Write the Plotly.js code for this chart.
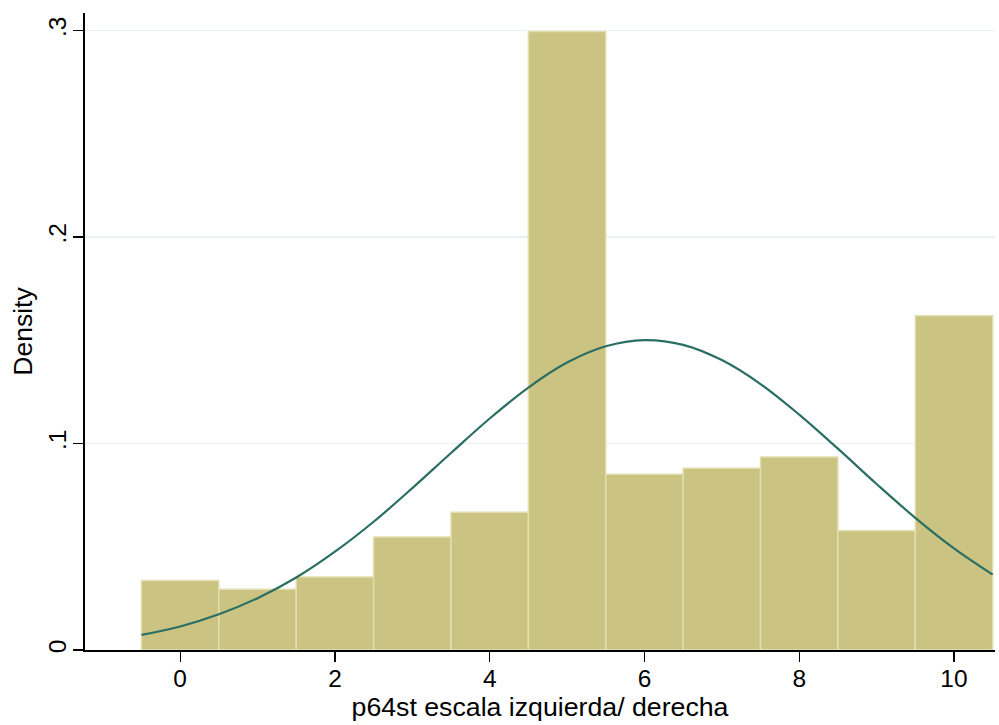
<!DOCTYPE html>
<html>
<head>
<meta charset="utf-8">
<script src="https://cdn.plot.ly/plotly-3.0.1.min.js"></script>
<style>
  html, body { margin: 0; padding: 0; background: #ffffff; }
  #chart { width: 999px; height: 725px; }
</style>
</head>
<body>
<div id="chart"></div>
<script>
// Histogram of the left/right self-placement scale (density per unit bin)
const binCenters = [0, 1, 2, 3, 4, 5, 6, 7, 8, 9, 10];
const binDensity = [0.0336, 0.0294, 0.0354, 0.0547, 0.0667, 0.2995, 0.0851, 0.0880, 0.0935, 0.0578, 0.1619];

// Fitted normal density curve, sampled along the scale
const curveX = [-0.5, 0, 0.5, 1, 1.5, 2, 2.5, 3, 3.5, 4, 4.5, 5, 5.5, 6, 6.5, 7, 7.5, 8, 8.5, 9, 9.5, 10, 10.5];
const curveY = [0.0073, 0.0114, 0.0173, 0.0251, 0.0351, 0.0476, 0.0621, 0.0784, 0.0954, 0.1121, 0.1271, 0.1392, 0.1471, 0.1501, 0.1478, 0.1404, 0.1288, 0.1140, 0.0975, 0.0804, 0.0640, 0.0492, 0.0365];

// Axis ticks
const xTickVals = [0, 2, 4, 6, 8, 10];
const xTickText = ["0", "2", "4", "6", "8", "10"];
const yTickVals = [0, 0.1, 0.2, 0.3];
const yTickText = ["0", ".1", ".2", ".3"];

const FONT = "'Liberation Sans', Arial, Helvetica, sans-serif";

const traces = [
  {
    type: "bar",
    x: binCenters,
    y: binDensity,
    width: 1,
    marker: { color: "rgb(202,195,129)", line: { color: "rgb(226,222,176)", width: 1.5 } },
    hoverinfo: "x+y"
  },
  {
    type: "scatter",
    mode: "lines",
    x: curveX,
    y: curveY,
    line: { color: "rgb(42,110,100)", width: 2.2, shape: "spline", smoothing: 1 },
    hoverinfo: "x+y"
  }
];

const layout = {
  width: 999,
  height: 725,
  margin: { l: 85, r: 4, t: 13, b: 75 },
  paper_bgcolor: "#ffffff",
  plot_bgcolor: "#ffffff",
  showlegend: false,
  bargap: 0,
  font: { family: FONT, color: "#000000", size: 24 },
  xaxis: {
    range: [-1.23, 10.53],
    tickmode: "array",
    tickvals: xTickVals,
    ticktext: xTickText,
    ticks: "outside",
    ticklen: 10,
    tickwidth: 1.3,
    tickcolor: "#000000",
    ticklabelstandoff: -4,
    tickfont: { family: FONT, size: 24.5, color: "#000000" },
    showline: true,
    linecolor: "#000000",
    linewidth: 1.6,
    showgrid: false,
    zeroline: false,
    automargin: false,
    title: { text: "p64st escala izquierda/ derecha", font: { family: FONT, size: 26.7, color: "#000000" }, standoff: 4 }
  },
  yaxis: {
    range: [0, 0.3085],
    tickmode: "array",
    tickvals: yTickVals,
    ticktext: yTickText,
    tickangle: -90,
    ticks: "outside",
    ticklen: 10,
    tickwidth: 1.3,
    tickcolor: "#000000",
    ticklabelstandoff: -2,
    tickfont: { family: FONT, size: 24.5, color: "#000000" },
    showline: true,
    linecolor: "#000000",
    linewidth: 1.6,
    showgrid: true,
    gridcolor: "rgb(234,241,243)",
    gridwidth: 1.5,
    zeroline: false,
    automargin: false,
    title: { text: "Density", font: { family: FONT, size: 26.5, color: "#000000" }, standoff: 3 }
  }
};

Plotly.newPlot("chart", traces, layout, { displayModeBar: false, staticPlot: true });
</script>
</body>
</html>
